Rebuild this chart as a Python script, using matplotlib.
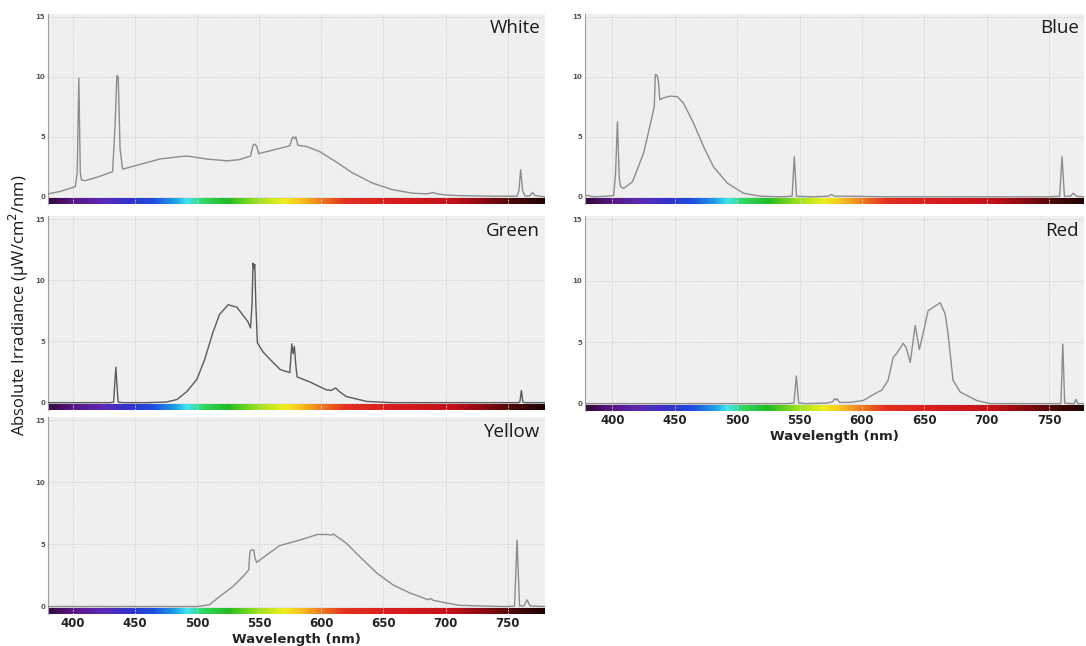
import numpy as np
import matplotlib.pyplot as plt
from matplotlib.colors import to_rgb

# ---- spectra (wavelength nm, irradiance uW/cm2/nm) ----
white_wl = [380, 390, 399, 402, 403.5, 404.8, 406, 407, 410, 420, 432, 434, 435.4, 436.5, 438,
            440, 454, 470, 486, 492, 508, 524, 534, 543, 545, 546.4, 548, 549.6, 561, 574.6,
            576.5, 577.5, 578.5, 579.5, 581, 588, 599, 612, 625, 641, 657, 673.5, 685, 690,
            693, 700, 711, 738, 757.5, 759, 760.4, 762, 764, 768, 770, 772, 780]
white_irr = [0.25, 0.45, 0.75, 0.85, 2.0, 9.9, 2.0, 1.4, 1.35, 1.65, 2.1, 6.0, 10.1, 10.0, 4.0,
             2.3, 2.7, 3.15, 3.35, 3.4, 3.15, 3.0, 3.1, 3.4, 4.3, 4.4, 4.2, 3.6, 3.9, 4.25,
             4.9, 5.0, 4.85, 5.0, 4.3, 4.2, 3.75, 2.9, 2.0, 1.15, 0.6, 0.3, 0.25, 0.35,
             0.25, 0.15, 0.1, 0.05, 0.05, 0.5, 2.25, 0.5, 0.05, 0.1, 0.35, 0.1, 0.0]

blue_wl = [378, 385, 395, 401, 402.5, 404, 405.5, 406.5, 409, 416, 425, 432, 433.5, 434.4, 436,
           437, 438, 441, 446.5, 452, 457, 465, 473, 481, 492, 505, 518.5, 535, 544, 545.8,
           547.5, 560, 573, 575.5, 578, 590, 620, 700, 750, 758.5, 760.4, 762.3, 767, 769.5,
           772, 778]
blue_irr = [0.15, 0.0, 0.05, 0.1, 2.0, 6.25, 1.5, 0.85, 0.7, 1.25, 3.65, 6.8, 7.5, 10.2, 10.1,
            9.5, 8.1, 8.25, 8.4, 8.35, 7.8, 6.15, 4.2, 2.5, 1.15, 0.3, 0.05, 0.0, 0.05, 3.35,
            0.05, 0.0, 0.05, 0.2, 0.05, 0.05, 0.0, 0.0, 0.0, 0.05, 3.35, 0.05, 0.05, 0.3,
            0.05, 0.0]

green_wl = [380, 430, 432.8, 434.6, 436.4, 440, 460, 475, 483.7, 491.7, 499.8, 506, 512.6, 518,
            525, 532, 538, 541, 543, 544.2, 545, 545.7, 546.4, 547.3, 548.5, 553, 561, 567,
            574.6, 576.2, 577.3, 578.3, 579.5, 580.5, 590.6, 604, 608, 611.6, 614, 620, 636.5,
            657, 700, 758, 759.8, 761, 762.2, 764, 780]
green_irr = [0.0, 0.0, 0.05, 2.9, 0.05, 0.0, 0.0, 0.05, 0.25, 0.9, 1.9, 3.5, 5.7, 7.2,
             8.0, 7.8, 7.0, 6.6, 6.1, 8.0, 11.4, 11.0, 11.3, 8.0, 4.9, 4.15, 3.3, 2.7,
             2.45, 4.8, 4.0, 4.6, 3.0, 2.1, 1.7, 1.05, 1.0, 1.2, 0.95, 0.5, 0.1,
             0.0, 0.0, 0.0, 0.05, 1.0, 0.05, 0.0, 0.0]

yellow_wl = [380, 500, 510, 518, 528.7, 536.8, 541.5, 542.5, 543.5, 545.6, 546.6, 548, 556, 566.5,
             582.6, 597, 604, 608.4, 609.5, 620, 631, 644.6, 657.5, 671, 686, 688, 690, 700,
             711, 738, 750, 755.5, 757.5, 759.5, 763, 765.5, 768, 780]
yellow_irr = [0.0, 0.0, 0.15, 0.8, 1.6, 2.4, 2.95, 4.4, 4.55, 4.55, 3.9, 3.55, 4.15, 4.9,
              5.35, 5.8, 5.8, 5.75, 5.85, 5.1, 4.0, 2.7, 1.75, 1.1, 0.55, 0.65, 0.5, 0.3,
              0.1, 0.02, 0.0, 0.05, 5.35, 0.05, 0.05, 0.55, 0.05, 0.0]

red_wl = [378, 540, 545.5, 547.4, 549.3, 555, 572, 576.5, 578, 579, 580, 582, 590.6, 601, 612,
          616, 621, 625, 628, 633, 635.5, 638.7, 642.7, 646, 649, 653, 662.7, 666.7, 669, 673,
          678.7, 692, 702.7, 758.5, 759.5, 761, 762.5, 767, 770, 771.6, 773, 778]
red_irr = [0.0, 0.0, 0.05, 2.25, 0.05, 0.0, 0.05, 0.15, 0.4, 0.3, 0.4, 0.1, 0.1, 0.25, 0.9,
           1.1, 1.9, 3.75, 4.1, 4.9, 4.55, 3.35, 6.35, 4.4, 5.7, 7.55, 8.2, 7.3, 5.7, 1.9,
           0.95, 0.25, 0.0, 0.0, 0.05, 4.85, 0.05, 0.0, 0.0, 0.35, 0.0, 0.0]

# visible spectrum strip under each plot
strip_wl = [380, 400, 425, 445, 465, 482, 492, 505, 525, 548, 570, 582, 600, 620, 660, 705, 730, 755, 782]
strip_col = ['#33093f', '#5a1585', '#5a2cb8', '#3232cc', '#1e50e0', '#1e9ee8', '#40e6f0',
             '#30d860', '#22bb22', '#9ae020', '#f0ee20', '#f5c81e', '#f07a1e', '#e23020',
             '#d81c1e', '#c4121a', '#8a0a10', '#4a0808', '#1a0202']

W, H = 1086, 646
fig = plt.figure(figsize=(W / 100, H / 100), dpi=100)


def px_axes(left, top, right, bottom):
    return fig.add_axes([left / W, 1 - bottom / H, (right - left) / W, (bottom - top) / H])


def spectrum_strip(ax, x0, x1):
    xs = np.linspace(x0, x1, 800)
    rgb = np.array([to_rgb(c) for c in strip_col])
    img = np.stack([np.interp(xs, strip_wl, rgb[:, k]) for k in range(3)], axis=-1)
    ax.imshow(img[None, :, :], extent=[x0, x1, -0.6, -0.15], aspect='auto', zorder=1,
              interpolation='bilinear')


panels = [
    ('White', white_wl, white_irr, (48, 14, 545, 204), (380, 780), '#8c8c8c', False),
    ('Green', green_wl, green_irr, (48, 216, 545, 410), (380, 780), '#5a5a5a', False),
    ('Yellow', yellow_wl, yellow_irr, (48, 417, 545, 614), (380, 780), '#8c8c8c', True),
    ('Blue', blue_wl, blue_irr, (585, 14, 1084, 204), (378, 778), '#8c8c8c', False),
    ('Red', red_wl, red_irr, (585, 216, 1084, 411), (378, 778), '#8c8c8c', True),
]

for name, wl, irr, rect, xlim, lc, xlab in panels:
    ax = px_axes(*rect)
    ax.set_facecolor('#efefef')
    spectrum_strip(ax, *xlim)
    ax.plot(wl, irr, color=lc, lw=1.0, zorder=3)
    ax.set_xlim(*xlim)
    ax.set_ylim(-0.6, 15.25)
    ax.set_xticks([400, 450, 500, 550, 600, 650, 700, 750])
    ax.set_yticks([0, 5, 10, 15])
    ax.grid(True, color='#d2d2d2', lw=0.7, ls=(0, (1.5, 1.5)), zorder=0)
    for s in ['top', 'right', 'bottom']:
        ax.spines[s].set_visible(False)
    ax.spines['left'].set_color('#a0a0a0')
    ax.spines['left'].set_linewidth(0.8)
    ax.tick_params(length=0)
    ax.tick_params(axis='y', labelsize=5, labelcolor='#555555', pad=2)
    for t in ax.get_yticklabels():
        t.set_fontweight('bold')
    if xlab:
        ax.tick_params(axis='x', labelsize=8.5, labelcolor='#222222', pad=2.5)
        for t in ax.get_xticklabels():
            t.set_fontweight('bold')
        ax.set_xlabel('Wavelength (nm)', fontsize=9.5, fontweight='bold', color='#222222',
                      labelpad=1.5)
    else:
        ax.set_xticklabels([])
    ax.text(0.99, 0.925, name, transform=ax.transAxes, ha='right', va='center',
            fontsize=13.5, family='Open Sans', color='#1a1a1a')

fig.text(19 / W, 1 - 305 / H, 'Absolute Irradiance (\u03bcW/cm$^2$/nm)', rotation=90,
         ha='center', va='center', fontsize=12, family='Open Sans', color='#1a1a1a')

fig.savefig('out.png', dpi=100)
